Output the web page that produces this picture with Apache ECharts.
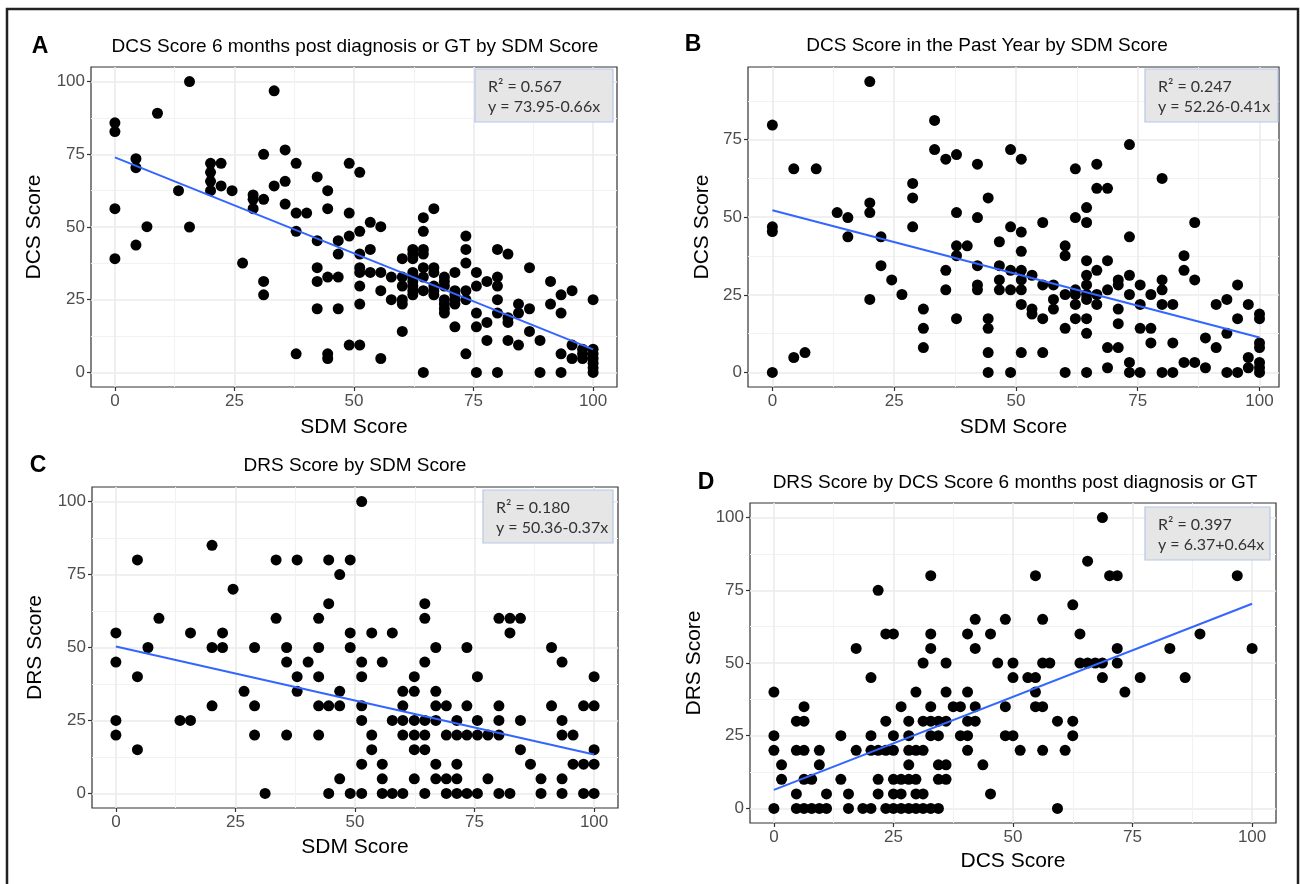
<!DOCTYPE html>
<html>
<head>
<meta charset="utf-8">
<script src="https://cdn.jsdelivr.net/npm/echarts@6/dist/echarts.min.js"></script>
<style>
  html, body { margin: 0; padding: 0; background: #fff; }
  #chart { width: 1300px; height: 884px; }
</style>
</head>
<body>
<div id="chart"></div>
<script>
const FONT = '"Liberation Sans", Arial, sans-serif';

// A: DCS score (6 months) vs SDM score
const ptsA = [
  [0, 85.8], [0, 82.8], [0, 56.3], [0, 39.1], [15.6, 100], [8.9, 89.1], [4.4, 73.5], [4.4, 70.4],
  [6.7, 50.1], [4.4, 43.8], [15.6, 50], [13.3, 62.5], [20, 71.9], [20, 68.8], [20, 65.7], [20, 62.5],
  [22.2, 71.9], [22.2, 64.1], [24.5, 62.5], [26.7, 37.6], [28.9, 61], [28.9, 59.5], [28.9, 56.3],
  [31.1, 75], [31.1, 59.5], [31.1, 31.3], [31.1, 26.7], [33.3, 96.8], [33.3, 64.1], [35.6, 76.5],
  [35.6, 65.7], [35.6, 57.9], [37.9, 71.9], [37.9, 54.8], [37.9, 48.5], [37.9, 6.4], [40.1, 54.8],
  [42.3, 67.2], [42.3, 45.3], [42.3, 36], [42.3, 31.3], [42.3, 21.9], [44.5, 62.5], [44.5, 56.3],
  [44.5, 32.8], [44.5, 6.4], [44.5, 4.8], [46.7, 45.3], [46.7, 40.7], [46.7, 32.8], [46.7, 21.9],
  [49, 71.9], [49, 54.8], [49, 46.9], [49, 9.4],
  [51.2, 68.8], [51.2, 48.5], [53.4, 51.6], [55.6, 50.1], [51.2, 40.7], [53.4, 42.3], [51.2, 36],
  [51.2, 34.4], [53.4, 34.4], [55.6, 34.4], [51.2, 29.7], [55.6, 28.1], [51.2, 23.5], [51.2, 9.4],
  [55.6, 4.8], [57.8, 32.8], [57.8, 25], [60.1, 39.1], [60.1, 32.8], [60.1, 29.7], [60.1, 25],
  [60.1, 23.5], [60.1, 14.1], [62.3, 42.3], [62.3, 40.7], [62.3, 39.1], [62.3, 34.4], [62.3, 32.8],
  [62.3, 31.3], [62.3, 29.7], [62.3, 28.1], [62.3, 26.7], [64.5, 53.2], [64.5, 48.5], [64.5, 42.3],
  [64.5, 40.7], [64.5, 36], [64.5, 32.8], [64.5, 28.1], [64.5, 0], [66.7, 56.3], [66.7, 36],
  [66.7, 34.4], [66.7, 29.7], [66.7, 28.1], [66.7, 26.7], [68.9, 32.8], [68.9, 31.3], [68.9, 29.7],
  [68.9, 25], [68.9, 23.5], [68.9, 21.9], [68.9, 20.4], [71.1, 34.4], [71.1, 28.1], [71.1, 26.7],
  [71.1, 25], [71.1, 23.5], [71.1, 15.7], [73.4, 46.9], [73.4, 42.3], [73.4, 37.6], [73.4, 28.1],
  [73.4, 25], [73.4, 6.4], [75.6, 34.4], [75.6, 29.7], [75.6, 20.4], [75.6, 15.7], [75.6, 0],
  [77.8, 31.3], [77.8, 17.2], [77.8, 11], [80, 42.3], [80, 32.8], [80, 29.7], [80, 25], [80, 20.4],
  [80, 0], [82.2, 40.7], [82.2, 18.8], [82.2, 17.2], [82.2, 11], [84.4, 23.5], [84.4, 20.4],
  [84.4, 9.4], [86.7, 36], [86.7, 21.9], [86.7, 14.1], [88.9, 11], [88.9, 0], [91.1, 31.3],
  [91.1, 23.5], [93.3, 26.7], [93.3, 20.4], [93.3, 6.4], [93.3, 0], [95.6, 28.1], [95.6, 9.4],
  [95.6, 4.8], [97.8, 8], [97.8, 6.4], [97.8, 4.8], [100, 25], [100, 8], [100, 6.4], [100, 4.8],
  [100, 3.2], [100, 1.6], [100, 0]
];

// B: DCS score (past year) vs SDM score
const ptsB = [
  [0, 79.7], [0, 46.9], [0, 45.4], [0, 0], [20, 93.7], [4.4, 65.6], [9, 65.6], [4.4, 4.8], [6.7, 6.4],
  [13.3, 51.5], [15.5, 49.9], [15.5, 43.7], [20, 54.6], [20, 51.5], [20, 23.5], [22.3, 43.7],
  [22.3, 34.4], [24.5, 29.8], [26.6, 25.1], [28.8, 60.9], [28.8, 56.2], [28.8, 46.9], [31, 20.4],
  [31, 14.2], [31, 8], [33.3, 81.2], [33.3, 71.8], [35.6, 68.7], [35.6, 32.9], [35.6, 26.6],
  [37.8, 70.2], [37.8, 51.5], [37.8, 40.8], [37.8, 37.6], [37.8, 17.3], [40, 40.8], [42.1, 67.1],
  [42.1, 49.9], [42.1, 34.4], [42.1, 28.2], [42.1, 26.6], [44.3, 56.2], [44.3, 17.3], [44.3, 14.2],
  [44.3, 6.4], [44.3, 0], [46.6, 42.1], [46.6, 34.4], [46.6, 29.8], [46.6, 26.6],
  [48.9, 71.8], [48.9, 46.9], [48.9, 32.9], [48.9, 26.6], [48.9, 0], [51.1, 68.7], [51.1, 45.2],
  [51.1, 39], [51.1, 32.9], [51.1, 29.8], [51.1, 26.6], [51.1, 21.9], [51.1, 6.4], [53.3, 31.3],
  [53.3, 20.4], [53.3, 18.8], [55.5, 48.3], [55.5, 28.2], [55.5, 17.3], [55.5, 6.4], [57.7, 28.2],
  [57.7, 23.5], [57.7, 20.4], [60.1, 40.8], [60.1, 37.6], [60.1, 25.1], [60.1, 14.2], [60.1, 0],
  [62.2, 65.6], [62.2, 49.9], [62.2, 26.6], [62.2, 25.1], [62.2, 21.9], [62.2, 17.3], [64.5, 53.1],
  [64.5, 48.3], [64.5, 36], [64.5, 31.3], [64.5, 28.2], [64.5, 25.1], [64.5, 23.5], [64.5, 17.3],
  [64.5, 12.6], [64.5, 0], [66.6, 67.1], [66.6, 59.3], [66.6, 32.9], [66.6, 25.1], [66.6, 21.9],
  [68.8, 59.3], [68.8, 36], [68.8, 26.6], [68.8, 8], [68.8, 1.5], [71, 29.8], [71, 28.2], [71, 20.4],
  [71, 15.7], [71, 8], [73.3, 73.4], [73.3, 43.7], [73.3, 31.3], [73.3, 25.1], [73.3, 3.2], [73.3, 0],
  [75.5, 28.2], [75.5, 21.9], [75.5, 14.2], [75.5, 0], [77.7, 25.1], [77.7, 14.2], [77.7, 9.5],
  [80, 62.5], [80, 29.8], [80, 26.6], [80, 21.9], [80, 0], [82.2, 21.9], [82.2, 9.5], [82.2, 0],
  [84.5, 37.6], [84.5, 32.9], [84.5, 3.2], [86.7, 48.3], [86.7, 29.8], [86.7, 3.2], [88.9, 11.1],
  [88.9, 1.5], [91.1, 21.9], [91.1, 8], [93.3, 23.5], [93.3, 12.6], [93.3, 0], [95.5, 28.2],
  [95.5, 17.3], [95.5, 0], [97.7, 21.9], [97.7, 4.8], [97.7, 1.5], [100, 18.8], [100, 17.3],
  [100, 9.5], [100, 8], [100, 3.2], [100, 1.5], [100, 0]
];

// C: DRS score vs SDM score
const ptsC = [
  [0, 55], [0, 45], [0, 25], [0, 20], [4.5, 80], [4.5, 40], [4.5, 15], [6.7, 50], [9, 60], [13.4, 25],
  [15.6, 25], [15.6, 55], [20.1, 85], [20.1, 50], [20.1, 30], [22.3, 55], [22.3, 50], [24.5, 70],
  [26.8, 35], [29, 50], [29, 30], [29, 20], [31.2, 0], [33.5, 80], [33.5, 60], [35.7, 50], [35.7, 45],
  [35.7, 20], [37.9, 80], [37.9, 40], [37.9, 35], [40.2, 45], [42.4, 60], [42.4, 50], [42.4, 40],
  [42.4, 30], [42.4, 20], [44.5, 80], [44.5, 65], [44.5, 30], [44.5, 0], [46.8, 75], [46.8, 35],
  [46.8, 30], [46.8, 5], [49, 80], [49, 55], [49, 50], [49, 0],
  [51.4, 100], [51.4, 45], [51.4, 40], [51.4, 30], [51.4, 25], [51.4, 10], [51.4, 0], [53.5, 55],
  [53.5, 20], [53.5, 15], [55.7, 45], [55.7, 10], [55.7, 5], [55.7, 0], [57.8, 55], [57.8, 25],
  [57.8, 0], [60, 35], [60, 30], [60, 25], [60, 20], [60, 0], [62.4, 40], [62.4, 35], [62.4, 25],
  [62.4, 20], [62.4, 15], [62.4, 5], [64.6, 65], [64.6, 60], [64.6, 45], [64.6, 25], [64.6, 20],
  [64.6, 15], [64.6, 0], [66.9, 50], [66.9, 35], [66.9, 30], [66.9, 25], [66.9, 10], [66.9, 5],
  [69.1, 30], [69.1, 20], [69.1, 5], [69.1, 0], [71.3, 25], [71.3, 20], [71.3, 10], [71.3, 5],
  [71.3, 0], [73.4, 50], [73.4, 30], [73.4, 20], [73.4, 0], [75.6, 40], [75.6, 25], [75.6, 20],
  [75.6, 0], [77.8, 20], [77.8, 5], [80.1, 60], [80.1, 30], [80.1, 25], [80.1, 20], [80.1, 0],
  [82.4, 60], [82.4, 55], [82.4, 0], [84.6, 60], [84.6, 25], [84.6, 15], [86.7, 10], [88.9, 5],
  [88.9, 0], [91.1, 50], [91.1, 30], [93.3, 45], [93.3, 25], [93.3, 20], [93.3, 5], [93.3, 0],
  [95.6, 20], [95.6, 10], [97.8, 30], [97.8, 10], [97.8, 0], [100, 40], [100, 30], [100, 15],
  [100, 10], [100, 0]
];

// D: DRS score vs DCS score (6 months)
const ptsD = [
  [0, 40], [0, 25], [0, 20], [0, 0], [1.6, 15], [1.6, 10], [4.7, 30], [6.3, 30], [6.3, 35], [4.7, 20],
  [6.3, 20], [4.7, 5], [6.3, 10], [7.9, 10], [4.7, 0], [6.3, 0], [7.9, 0], [9.5, 0], [11, 0],
  [9.5, 20], [9.5, 15], [11, 5], [14, 25], [14, 10], [15.6, 5], [15.6, 0], [17.2, 55], [17.2, 20],
  [18.6, 0], [20.3, 0], [20.3, 45], [20.3, 25], [20.3, 20], [21.8, 75], [21.8, 20], [21.8, 10],
  [21.8, 5], [23.4, 60], [25, 60], [23.4, 30], [23.4, 20], [23.4, 0], [25, 0], [25, 25], [25, 20],
  [25, 10], [25, 5], [26.6, 35], [26.6, 10], [26.6, 5], [26.6, 0], [28.2, 30], [28.2, 25],
  [28.2, 20], [28.2, 15], [28.2, 10], [28.2, 0], [29.7, 40], [29.7, 20], [29.7, 10], [29.7, 5],
  [29.7, 0], [31.2, 50], [31.2, 30], [31.2, 20], [31.2, 5], [31.2, 0], [32.8, 80], [32.8, 60],
  [32.8, 55], [32.8, 35], [32.8, 30], [32.8, 25], [32.8, 0], [34.4, 30], [34.4, 25], [34.4, 15],
  [34.4, 10], [34.4, 0], [36, 50], [36, 40], [36, 30], [36, 15], [36, 10], [37.5, 35], [39, 35],
  [39, 25], [40.5, 60], [40.5, 40], [40.5, 30], [40.5, 25], [40.5, 20], [42.1, 65], [42.1, 55],
  [42.1, 35], [42.1, 30], [43.7, 15], [45.3, 60], [45.3, 5], [46.8, 50], [48.4, 65], [48.4, 35],
  [48.4, 25], [50, 50], [50, 45], [50, 25], [51.5, 20],
  [54.7, 80], [54.7, 45], [53.1, 45], [54.7, 40], [54.7, 35], [56.2, 35], [56.2, 65], [56.2, 50],
  [57.7, 50], [56.2, 20], [59.3, 30], [59.3, 0], [60.9, 20], [62.5, 70], [62.5, 30], [62.5, 25],
  [64, 60], [64, 50], [65.6, 50], [67.2, 50], [68.7, 50], [65.6, 85], [68.7, 100], [68.7, 45],
  [70.2, 80], [71.8, 80], [71.8, 55], [71.8, 50], [73.4, 40], [76.6, 45], [82.8, 55], [86, 45],
  [89.1, 60], [96.9, 80], [100, 55]
];

// fitted lines (as printed in the boxes)
const r2 = [0.567, 0.247, 0.180, 0.397];
const intercepts = [73.95, 52.26, 50.36, 6.37];
const slopes = [-0.66, -0.41, -0.37, 0.64];

const titles = [
  'DCS Score 6 months post diagnosis or GT by SDM Score',
  'DCS Score in the Past Year by SDM Score',
  'DRS Score by SDM Score',
  'DRS Score by DCS Score 6 months post diagnosis or GT'
];
const letters = ['A', 'B', 'C', 'D'];
const xNames = ['SDM Score', 'SDM Score', 'SDM Score', 'DCS Score'];
const yNames = ['DCS Score', 'DCS Score', 'DRS Score', 'DRS Score'];
const ticksMajor = [0, 25, 50, 75, 100];
const ticksMajorB = [0, 25, 50, 75];
const ticksMinor = [12.5, 37.5, 62.5, 87.5];

// layout
const grids = [
  {left: 91, top: 67, width: 526, height: 320},
  {left: 748, top: 67, width: 531, height: 320},
  {left: 92, top: 487, width: 526, height: 321},
  {left: 750, top: 503, width: 526, height: 320}
];
const xRange = [[-5, 105], [-5, 104], [-5, 105], [-5, 105]];
const yRange = [[-5, 105], [-4.7, 98.4], [-5, 105], [-5, 105]];
const yGap = [46, 35, 46, 45];
const xGap = [30, 30, 29, 28];
const titlePos = [[355, 47], [987, 46], [355, 466], [1015, 483]];
const letterPos = [[40, 47], [693, 45], [38, 466], [706, 483]];
const boxPos = [[475, 69, 138, 53], [1145, 69, 133, 53], [483, 490, 130, 53], [1145, 507, 125, 53]];

function majorAxis(gi, range, ticks, name, gap, isY) {
  let ax = {
    type: 'value', gridIndex: gi, min: range[0], max: range[1],
    position: isY ? 'left' : 'bottom',
    name: name, nameLocation: 'middle', nameGap: gap,
    nameTextStyle: {fontSize: 21, color: '#000', fontFamily: FONT},
    axisLine: {show: false, onZero: false},
    axisTick: {show: true, length: 4, customValues: ticks, lineStyle: {color: '#333', width: 1.2}},
    axisLabel: {customValues: ticks, color: '#4d4d4d', fontSize: 17, margin: 6, fontFamily: FONT},
    splitLine: {show: true, lineStyle: {color: '#ebebeb', width: 1.6}}
  };
  if (isY) ax.nameRotate = 90;
  return ax;
}

function minorAxis(gi, range, isY) {
  return {
    type: 'value', gridIndex: gi, min: range[0], max: range[1],
    position: isY ? 'left' : 'bottom',
    axisLine: {show: false, onZero: false},
    axisTick: {show: false, customValues: ticksMinor},
    axisLabel: {show: false},
    splitLine: {show: true, lineStyle: {color: ['#f2f2f2'], width: 1}}
  };
}

let xAxes = [], yAxes = [], series = [], graphics = [];
const allPts = [ptsA, ptsB, ptsC, ptsD];

for (let i = 0; i < 4; i++) {
  xAxes.push(majorAxis(i, xRange[i], ticksMajor, xNames[i], xGap[i], false));
  xAxes.push(minorAxis(i, xRange[i], false));
  yAxes.push(majorAxis(i, yRange[i], i === 1 ? ticksMajorB : ticksMajor, yNames[i], yGap[i], true));
  yAxes.push(minorAxis(i, yRange[i], true));

  series.push({
    type: 'scatter', xAxisIndex: 2 * i, yAxisIndex: 2 * i,
    data: allPts[i], symbolSize: 11,
    itemStyle: {color: '#000', opacity: 1}
  });
  // fitted line across the observed x range
  let xs = allPts[i].map(p => p[0]);
  let x0 = Math.min.apply(null, xs), x1 = Math.max.apply(null, xs);
  series.push({
    type: 'line', xAxisIndex: 2 * i, yAxisIndex: 2 * i,
    data: [[x0, intercepts[i] + slopes[i] * x0], [x1, intercepts[i] + slopes[i] * x1]],
    showSymbol: false, symbol: 'none',
    lineStyle: {color: '#3366FF', width: 2}
  });

  graphics.push({
    type: 'text', x: titlePos[i][0], y: titlePos[i][1],
    style: {text: titles[i], font: '19px ' + FONT, fill: '#000', textAlign: 'center', textVerticalAlign: 'middle'}
  });
  graphics.push({
    type: 'text', x: letterPos[i][0], y: letterPos[i][1],
    style: {text: letters[i], font: 'bold 23px ' + FONT, fill: '#000', textAlign: 'center', textVerticalAlign: 'middle'}
  });
  let b = boxPos[i];
  let sign = slopes[i] < 0 ? '-' : '+';
  graphics.push({
    type: 'rect', shape: {x: b[0], y: b[1], width: b[2], height: b[3]},
    style: {fill: '#e6e6e6', stroke: '#b4c7e7', lineWidth: 1.2}, z: 10
  });
  graphics.push({
    type: 'text', x: b[0] + 13, y: b[1] + 8, z: 11,
    style: {
      text: 'R\u00B2 = ' + r2[i].toFixed(3) + '\ny = ' + intercepts[i].toFixed(2) + sign + Math.abs(slopes[i]).toFixed(2) + 'x',
      font: '16px Lato, ' + FONT, fill: '#333', lineHeight: 20
    }
  });
}

// outer frame of the figure
graphics.push({
  type: 'rect', shape: {x: 7, y: 9, width: 1291, height: 900},
  style: {fill: 'none', stroke: '#222', lineWidth: 2.5}, z: 20
});

let myChart = echarts.init(document.getElementById('chart'));
let option = {
  animation: false,
  backgroundColor: '#fff',
  grid: grids.map(g => Object.assign({show: true, borderColor: '#333', borderWidth: 1.2, backgroundColor: '#fff'}, g)),
  xAxis: xAxes,
  yAxis: yAxes,
  series: series,
  graphic: graphics
};
myChart.setOption(option);
</script>
</body>
</html>
